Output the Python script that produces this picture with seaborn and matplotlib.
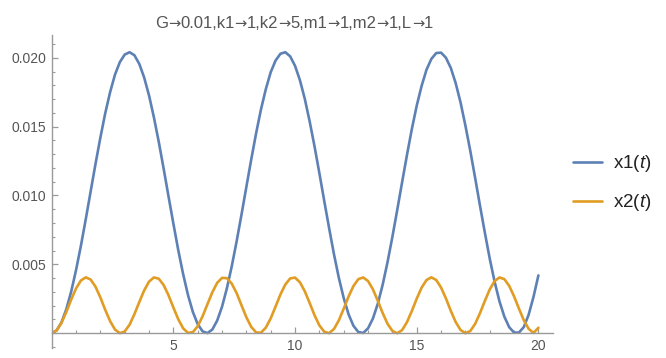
import numpy as np
import pandas as pd
import matplotlib
matplotlib.use("Agg")
import matplotlib.pyplot as plt
from matplotlib.ticker import MultipleLocator, FixedLocator, FuncFormatter
from matplotlib.lines import Line2D
from matplotlib.offsetbox import TextArea, HPacker, AnchoredOffsetbox
import seaborn as sns

# ---- data ----
title = "G\u21920.01,k1\u21921,k2\u21925,m1\u21921,m2\u21921,L\u21921"
series_names = ["x1($\\mathit{t}$)", "x2($\\mathit{t}$)"]
colors = ["#5E81B5", "#E19C24"]

t_step = 0.2
x1_values = [
    0.0, 0.00020, 0.00078, 0.00174, 0.00302, 0.00458, 0.00635, 0.00828,
    0.01029, 0.01229, 0.01420, 0.01597, 0.01750, 0.01877, 0.01968, 0.02023,
    0.02040, 0.02018, 0.01955, 0.01856, 0.01726, 0.01567, 0.01389, 0.01195,
    0.00994, 0.00796, 0.00604, 0.00430, 0.00278, 0.00155, 0.00066, 0.00014,
    0.00001, 0.00027, 0.00092, 0.00193, 0.00327, 0.00487, 0.00668, 0.00862,
    0.01063, 0.01262, 0.01452, 0.01625, 0.01773, 0.01895, 0.01980, 0.02029,
    0.02040, 0.02010, 0.01941, 0.01837, 0.01702, 0.01538, 0.01357, 0.01162,
    0.00960, 0.00763, 0.00573, 0.00402, 0.00255, 0.00137, 0.00054, 0.00009,
    0.00002, 0.00036, 0.00107, 0.00214, 0.00352, 0.00516, 0.00700, 0.00896,
    0.01097, 0.01295, 0.01483, 0.01652, 0.01795, 0.01912, 0.01991, 0.02034,
    0.02037, 0.02000, 0.01926, 0.01816, 0.01676, 0.01508, 0.01325, 0.01128,
    0.00926, 0.00730, 0.00542, 0.00374, 0.00232, 0.00121, 0.00044, 0.00005,
    0.00005, 0.00045, 0.00135, 0.00265, 0.00420,
]

x2_values = [
    0.0, 0.00020, 0.00075, 0.00154, 0.00244, 0.00325, 0.00383, 0.00406, 0.00390,
    0.00338, 0.00260, 0.00170, 0.00088, 0.00027, 0.00001, 0.00013, 0.00062,
    0.00139, 0.00227, 0.00311, 0.00375, 0.00405, 0.00396, 0.00350, 0.00276,
    0.00187, 0.00102, 0.00036, 0.00003, 0.00008, 0.00051, 0.00123, 0.00211,
    0.00297, 0.00366, 0.00402, 0.00400, 0.00360, 0.00291, 0.00203, 0.00116,
    0.00046, 0.00006, 0.00004, 0.00041, 0.00108, 0.00194, 0.00282, 0.00354,
    0.00398, 0.00404, 0.00370, 0.00305, 0.00220, 0.00131, 0.00057, 0.00011,
    0.00001, 0.00031, 0.00094, 0.00178, 0.00267, 0.00343, 0.00393, 0.00405,
    0.00379, 0.00319, 0.00236, 0.00147, 0.00069, 0.00017, 0.00000, 0.00023,
    0.00081, 0.00162, 0.00251, 0.00331, 0.00386, 0.00406, 0.00387, 0.00332,
    0.00253, 0.00163, 0.00082, 0.00024, 0.00000, 0.00016, 0.00068, 0.00146,
    0.00235, 0.00318, 0.00379, 0.00405, 0.00393, 0.00344, 0.00268, 0.00179,
    0.00095, 0.00032, 0.00002, 0.00040,
]

x_major_ticks = [5, 10, 15, 20]
y_major_ticks = [0.005, 0.010, 0.015, 0.020]

# ---- build tidy frame ----
t1 = np.arange(len(x1_values)) * t_step
t2 = np.arange(len(x2_values)) * t_step
df = pd.concat([
    pd.DataFrame({"t": t1, "value": x1_values, "series": series_names[0]}),
    pd.DataFrame({"t": t2, "value": x2_values, "series": series_names[1]}),
], ignore_index=True)

sns.set_theme(style="white")
plt.rcParams["font.family"] = ["Liberation Sans", "DejaVu Sans"]
plt.rcParams["mathtext.fontset"] = "custom"
plt.rcParams["mathtext.rm"] = "Liberation Sans"
plt.rcParams["mathtext.it"] = "Liberation Sans:italic"

axis_col = "#9a9a9a"
label_col = "#555555"

fig = plt.figure(figsize=(6.66, 3.58), dpi=100)
ax = fig.add_axes([51.7 / 666, 10 / 358, (553 - 51.7) / 666, (348 - 35) / 358])

sns.lineplot(data=df, x="t", y="value", hue="series",
             palette=dict(zip(series_names, colors)),
             estimator=None, sort=False, linewidth=1.9, legend=False, ax=ax)

ax.set_xlim(0, 20.6)
ax.set_ylim(-0.00107, 0.02165)
ax.set_xlabel("")
ax.set_ylabel("")

for s in ["top", "right"]:
    ax.spines[s].set_visible(False)
ax.spines["bottom"].set_position(("data", 0))
ax.spines["left"].set_position(("data", 0))
for s in ["bottom", "left"]:
    ax.spines[s].set_color(axis_col)
    ax.spines[s].set_linewidth(1.0)

ax.xaxis.set_major_locator(FixedLocator(x_major_ticks))
ax.xaxis.set_minor_locator(MultipleLocator(1))
ax.yaxis.set_major_locator(FixedLocator(y_major_ticks))
ax.yaxis.set_minor_locator(MultipleLocator(0.001))
ax.yaxis.set_major_formatter(FuncFormatter(lambda v, p: f"{v:.3f}"))
ax.xaxis.set_major_formatter(FuncFormatter(lambda v, p: f"{v:g}"))

ax.tick_params(axis="both", which="major", direction="in", length=4.5, width=0.9,
               color=axis_col, labelcolor=label_col, labelsize=10, pad=4)
ax.tick_params(axis="both", which="minor", direction="in", length=2.5, width=0.8,
               color=axis_col)
ax.tick_params(axis="x", which="both", bottom=True)
ax.tick_params(axis="y", which="both", left=True)
ax.grid(False)

# title: text pieces in Liberation Sans, arrows in DejaVu Sans
parts = title.split("\u2192")
children = []
for i, p in enumerate(parts):
    children.append(TextArea(p, textprops=dict(fontsize=12, color=label_col,
                                               family="Liberation Sans")))
    if i < len(parts) - 1:
        children.append(TextArea("\u2192", textprops=dict(fontsize=10.5, color=label_col,
                                                          family="DejaVu Sans")))
pack = HPacker(children=children, align="baseline", pad=0, sep=0)
title_box = AnchoredOffsetbox(loc="center", child=pack, pad=0, borderpad=0, frameon=False,
                              bbox_to_anchor=(294 / 666, 1 - 24 / 358),
                              bbox_transform=fig.transFigure)
fig.add_artist(title_box)

handles = [Line2D([0], [0], color=c, lw=1.9) for c in colors]
fig.legend(handles, series_names, loc="center left",
           bbox_to_anchor=(573 / 666, 1 - 183.3 / 358), frameon=False,
           fontsize=13.5, handlelength=1.55, handletextpad=0.6,
           labelspacing=0.95, borderpad=0, borderaxespad=0,
           labelcolor="#222222")

fig.savefig("out.png", dpi=100)
